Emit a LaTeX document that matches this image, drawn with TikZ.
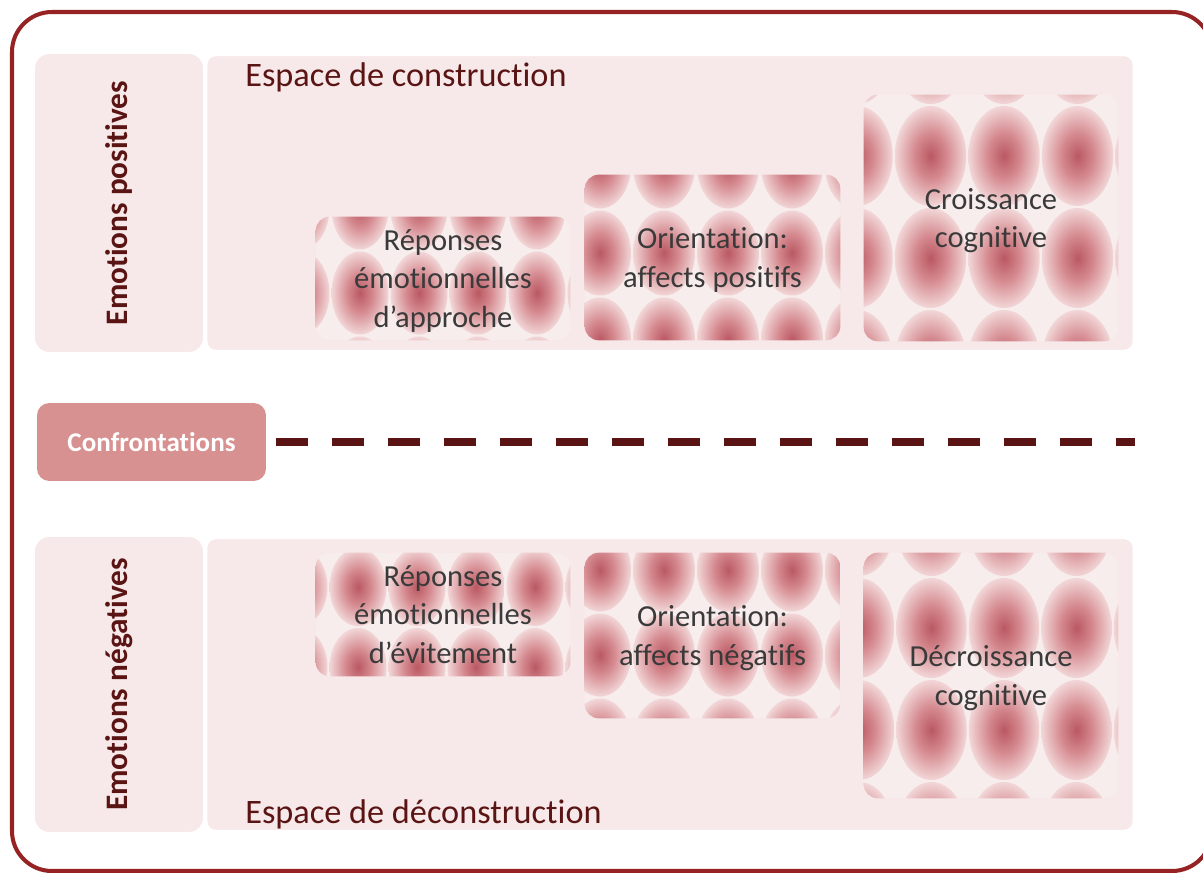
\documentclass[tikz,border=0pt]{standalone}
\usepackage{fontspec}
\setmainfont{Carlito}[Ligatures=TeX, Contextuals=NoAlternate,
  RawFeature={-liga;-calt;-clig}]
\usepackage{tikz}
\usetikzlibrary{shapes}
\definecolor{framered}{RGB}{150,35,35}
\definecolor{bandpink}{RGB}{247,233,233}
\definecolor{boxpink}{RGB}{248,237,237}
\definecolor{darkwine}{RGB}{90,20,20}
\definecolor{confpink}{RGB}{216,145,145}
\definecolor{cellcore}{RGB}{186,88,98}
\definecolor{cellmid}{RGB}{212,136,142}
\definecolor{cellrim}{RGB}{242,214,215}
\definecolor{boxgrey}{RGB}{58,58,58}

\pgfdeclareradialshading{cellshade}{\pgfpoint{0bp}{0bp}}{%
  color(0bp)=(cellcore); color(11bp)=(cellmid);
  color(25bp)=(cellrim); color(50bp)=(cellrim)}

\pgfdeclarelayer{bandlayer}
\pgfdeclarelayer{celllayer}
\pgfsetlayers{bandlayer,celllayer,main}

% tiled pattern of shaded ovals inside a box node
\newcommand{\cellgrid}[5]{%
  \begin{scope}
    \clip[rounded corners=8pt] (#1.south west) rectangle (#1.north east);
    \fill[boxpink] (#1.south west) rectangle (#1.north east);
    \foreach \i in {-1,...,5}
      \foreach \j in {-1,...,4}
        \shade[shading=cellshade]
          ({#2+\i*#4},{#3+\j*#5})
          ellipse [x radius={(#4/2-1)*0.02cm}, y radius={(#5/2-1)*0.02cm}];
  \end{scope}}

\begin{document}
\begin{tikzpicture}[x=0.02cm, y=-0.02cm,
    bandbox/.style={draw=white, line width=2.5pt, fill=bandpink,
      rounded corners=6pt, inner sep=0pt},
    labelbox/.style={fill=bandpink, rounded corners=8pt, inner sep=0pt,
      text=darkwine, font=\bfseries\fontsize{17.8}{21}\selectfont},
    cellbox/.style={rectangle, rounded corners=8pt, inner sep=0pt,
      align=center, text=boxgrey, text depth=0pt,
      font=\fontsize{17.4}{21.8}\selectfont},
    spacetext/.style={anchor=base west, inner sep=0pt, text=darkwine,
      font=\fontsize{19.5}{23}\selectfont},
    confbox/.style={fill=confpink, rounded corners=7pt, inner sep=0pt,
      text=white, font=\bfseries\fontsize{15.4}{18}\selectfont},
    dashline/.style={draw=darkwine, line width=4.5pt,
      dash pattern=on 0.64cm off 0.48cm}]
\useasboundingbox (0,0) rectangle (1203,872);

% outer frame
\begin{scope}
  \clip (0,0) rectangle (1203,872);
  \draw [framered, line width=2.3pt, rounded corners=0.8cm]
    (12,12) rectangle (1212,871);
\end{scope}

% bands
\begin{pgfonlayer}{bandlayer}
\path (670,203) node (topBand) [bandbox, minimum width=18.6cm,
    minimum height=5.96cm] {};
\path (670,684.5) node (lowBand) [bandbox, minimum width=18.6cm,
    minimum height=5.9cm] {};
\end{pgfonlayer}
\path (119,203) node (posLabel) [labelbox, rotate=90,
    minimum width=5.96cm, minimum height=3.36cm] {Emotions positives};
\path (119,684.5) node (negLabel) [labelbox, rotate=90,
    minimum width=5.9cm, minimum height=3.36cm] {Emotions négatives};

\path (245,86) node (topSpace) [spacetext] {Espace de construction};
\path (245,823) node (lowSpace) [spacetext] {Espace de déconstruction};

% upper boxes
\path (443,278.5) node (repApproche) [cellbox, minimum width=5.08cm,
    minimum height=2.46cm] {Réponses\\émotionnelles\\d’approche};
\path (712.5,257.5) node (orPositifs) [cellbox, minimum width=5.1cm,
    minimum height=3.3cm] {Orientation:\\affects positifs};
\path (991,218) node (croissance) [cellbox, minimum width=5.08cm,
    minimum height=4.92cm] {Croissance\\cognitive};

% lower boxes
\path (443,614.5) node (repEvitement) [cellbox, minimum width=5.08cm,
    minimum height=2.46cm] {Réponses\\émotionnelles\\d’évitement};
\path (712.5,635.5) node (orNegatifs) [cellbox, minimum width=5.1cm,
    minimum height=3.3cm] {Orientation:\\affects négatifs};
\path (991,675.5) node (decroissance) [cellbox, minimum width=5.08cm,
    minimum height=4.9cm] {Décroissance\\cognitive};

\begin{pgfonlayer}{celllayer}
\cellgrid{repApproche}{301}{208}{59}{85}
\cellgrid{orPositifs}{536}{166}{64}{87}
\cellgrid{croissance}{857}{54}{73.5}{102}
\cellgrid{repEvitement}{299}{587}{59}{80}
\cellgrid{orNegatifs}{536}{570}{64}{85}
\cellgrid{decroissance}{859}{526}{72.5}{102}
\end{pgfonlayer}

% confrontations
\path (151.5,442) node (conf) [confbox, minimum width=4.58cm,
    minimum height=1.56cm] {Confrontations};
\coordinate (dashEnd) at (1135,442);
\draw [dashline, shorten <=0.2cm] (conf) -- (dashEnd);

\end{tikzpicture}
\end{document}
